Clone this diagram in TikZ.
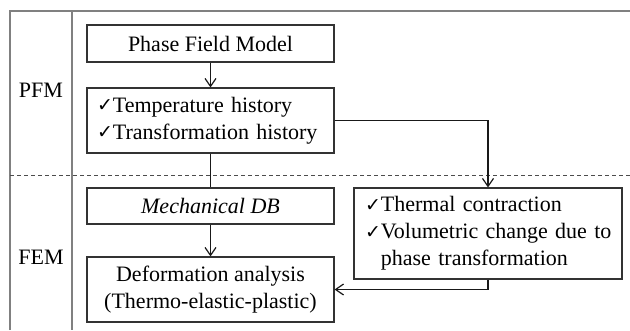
\documentclass[tikz,border=0pt]{standalone}
\usepackage{fontspec}
\setmainfont{Liberation Serif}
\newfontfamily\symfont{DejaVu Sans}
\usetikzlibrary{arrows.meta,calc}
\newcommand{\ck}{{\symfont\fontsize{19}{20}\selectfont\raisebox{0.5pt}{✓}}}
\begin{document}
\begin{tikzpicture}[x=1pt,y=-1pt,
  font=\fontsize{22}{27}\selectfont,
  box/.style={draw=black!80,line width=1.1pt,inner sep=0pt,text=black},
  conn/.style={draw=black!90,line width=1.2pt},
  arr/.style={conn,-{Straight Barb[length=8pt,width=11pt,line width=1.2pt]}},
  frame/.style={draw=black!50,line width=1.6pt},
  lbl/.style={text=black,inner sep=0pt}]
\useasboundingbox (0,0) rectangle (630,330);
% frame
\draw[frame] (10,330) -- (10,11) -- (630,11);
\draw[frame] (72,11) -- (72,330);
\draw[draw=black!70,line width=1pt,dash pattern=on 4pt off 3pt] (10,175) -- (630,175);
% labels
\node[lbl] (pfm) at (41,90) {PFM};
\node[lbl] (fem) at (41,257) {FEM};
% boxes
\node[box,minimum width=247pt,minimum height=37pt] (phase) at (210.5,43.5) {Phase Field Model};
\node[box,minimum width=247pt,minimum height=65pt,text width=227pt,inner xsep=10pt,align=left] (temp) at (210.5,120.5)
  {\mbox{\ck Temperature history}\\\mbox{\ck Transformation history}};
\node[box,minimum width=247pt,minimum height=36pt] (mech) at (210.5,206) {\itshape Mechanical DB};
\node[box,minimum width=247pt,minimum height=65pt,align=center] (def) at (210.5,289.5)
  {Deformation analysis\\(Thermo-elastic-plastic)};
\node[box,minimum width=268pt,minimum height=91pt,text width=246pt,inner xsep=11pt,align=left] (therm) at (488,233.5)
  {\mbox{\ck Thermal contraction}\\\mbox{\ck Volumetric change due to}\\\mbox{\phantom{\ck}phase transformation}};
% connectors
\draw[arr] (phase.south) -- (temp.north);
\draw[conn] (temp.south) -- (mech.north);
\draw[arr] (mech.south) -- (def.north);
\draw[arr] (temp.east) -| (therm.north);
\draw[arr] (therm.south) |- (def.east);
\end{tikzpicture}
\end{document}
